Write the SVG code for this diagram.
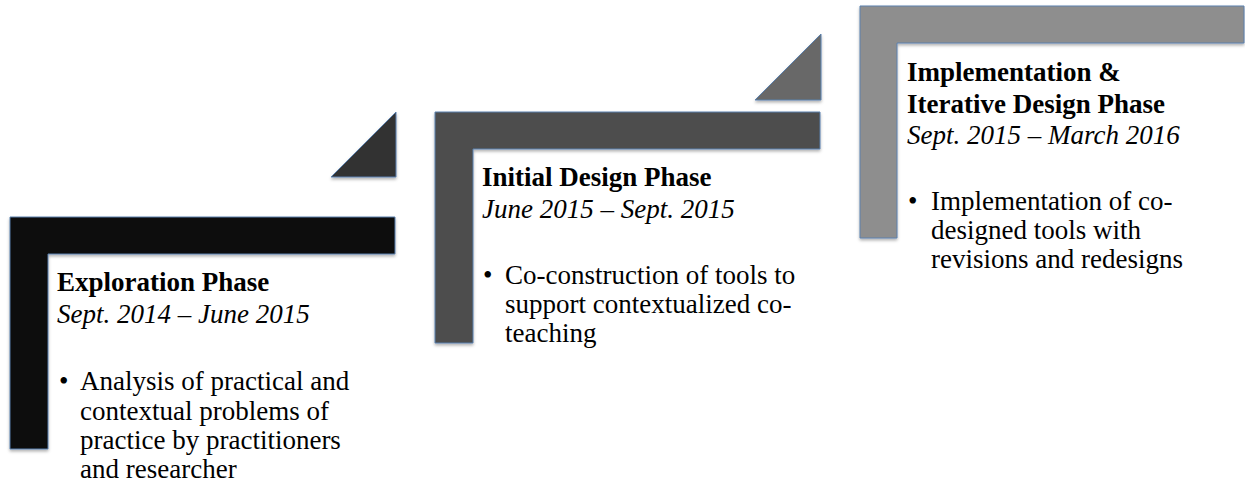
<svg xmlns="http://www.w3.org/2000/svg" width="1245" height="496" viewBox="0 0 1245 496">
<defs>
<filter id="sh" x="-10%" y="-10%" width="120%" height="130%">
<feDropShadow dx="0" dy="2" stdDeviation="1.5" flood-color="#000" flood-opacity="0.3"/>
</filter>
<style>
.shape{stroke:#5a80ad;stroke-width:1;filter:url(#sh)}
.head{font-family:"Liberation Serif","Times New Roman",serif;font-size:27px;font-weight:bold;fill:#000}
.date{font-family:"Liberation Serif","Times New Roman",serif;font-size:27px;font-style:italic;fill:#000}
.body{font-family:"Liberation Serif","Times New Roman",serif;font-size:27px;fill:#000}
</style>
</defs>
<rect width="1245" height="496" fill="#fff"/>
<g id="connectors">
<polygon class="shape" points="331,177 396,177 396,112" fill="#333333"/>
<polygon class="shape" points="755,100 821,100 821,34" fill="#686868"/>
</g>
<g id="phase-exploration">
<polygon class="shape" points="10,217 395,217 395,254 48,254 48,449 10,449" fill="#0a0a0a"/>
<text class="head" x="57" y="291">Exploration Phase</text>
<text class="date" x="57" y="323">Sept. 2014 – June 2015</text>
<text class="body" x="59" y="390">•</text>
<text class="body" x="80" y="390">Analysis of practical and</text>
<text class="body" x="80" y="419.5">contextual problems of</text>
<text class="body" x="80" y="449">practice by practitioners</text>
<text class="body" x="80" y="478">and researcher</text>
</g>
<g id="phase-initial-design">
<polygon class="shape" points="435,112 820,112 820,149 473,149 473,343 435,343" fill="#4d4d4d"/>
<text class="head" x="482" y="186">Initial Design Phase</text>
<text class="date" x="482" y="218">June 2015 – Sept. 2015</text>
<text class="body" x="483" y="284">•</text>
<text class="body" x="505" y="284">Co-construction of tools to</text>
<text class="body" x="505" y="313">support contextualized co-</text>
<text class="body" x="505" y="342">teaching</text>
</g>
<g id="phase-implementation">
<polygon class="shape" points="860,6 1244,6 1244,43 897,43 897,238 860,238" fill="#8e8e8e"/>
<text class="head" x="907" y="81">Implementation &amp;</text>
<text class="head" x="907" y="112.5">Iterative Design Phase</text>
<text class="date" x="907" y="144">Sept. 2015 – March 2016</text>
<text class="body" x="908" y="210">•</text>
<text class="body" x="931" y="210">Implementation of co-</text>
<text class="body" x="931" y="239">designed tools with</text>
<text class="body" x="931" y="268">revisions and redesigns</text>
</g>
</svg>
